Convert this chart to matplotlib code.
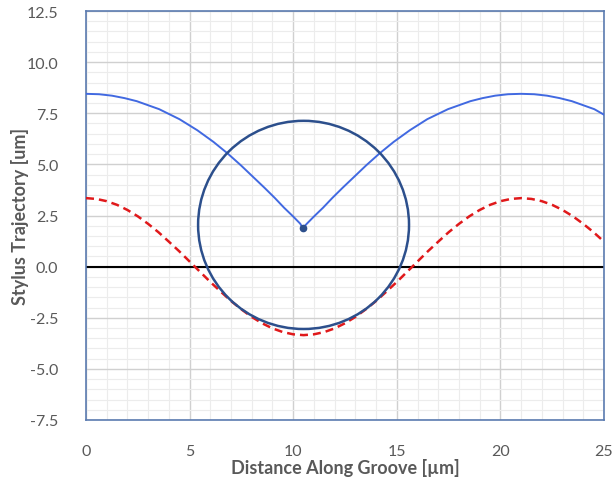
import matplotlib
matplotlib.use("Agg")
import matplotlib.pyplot as plt
from matplotlib.patches import Ellipse
from matplotlib.ticker import MultipleLocator, FormatStrFormatter

plt.rcParams["font.family"] = ["Lato", "DejaVu Sans"]

# groove profile (red dashed), read at 0.5 um steps
groove_x = [i * 0.5 for i in range(51)]
groove_y = [3.35, 3.31, 3.20, 3.02, 2.77, 2.46, 2.09, 1.68, 1.22, 0.75,
            0.25, -0.25, -0.75, -1.22, -1.68, -2.09, -2.46, -2.77, -3.02, -3.20,
            -3.31, -3.35, -3.31, -3.20, -3.02, -2.77, -2.46, -2.09, -1.68, -1.22,
            -0.75, -0.25, 0.25, 0.75, 1.22, 1.68, 2.09, 2.46, 2.77, 3.02,
            3.20, 3.31, 3.35, 3.31, 3.20, 3.02, 2.77, 2.46, 2.09, 1.68,
            1.22]

# stylus centre trajectory (blue)
stylus_x = [0.00, 0.63, 1.25, 1.86, 2.45, 3.53, 4.51, 5.37, 6.15, 6.84, 7.48,
            8.06, 8.61, 9.11, 9.56, 9.98, 10.34, 10.46, 10.66, 11.02, 11.44,
            11.89, 12.39, 12.94, 13.52, 14.16, 14.85, 15.63, 16.47, 17.47,
            18.55, 19.14, 19.75, 20.37, 21.00, 21.63, 22.25, 22.86, 23.45,
            24.53, 25.00]
stylus_y = [8.45, 8.43, 8.36, 8.24, 8.09, 7.70, 7.21, 6.67, 6.10, 5.53, 4.95,
            4.39, 3.86, 3.36, 2.88, 2.47, 2.10, 1.88, 2.10, 2.47, 2.88,
            3.36, 3.86, 4.39, 4.95, 5.53, 6.10, 6.67, 7.21, 7.70,
            8.09, 8.24, 8.36, 8.43, 8.45, 8.43, 8.36, 8.24, 8.09,
            7.70, 7.43]

# stylus tip circle and its centre at the cusp
tip_x, tip_y, tip_r = 10.5, 2.04, 5.09
cusp_x, cusp_y = 10.46, 1.88

fig = plt.figure(figsize=(6.14, 4.85), dpi=100)
ax = fig.add_axes([86 / 614, 1 - 421 / 485, 518 / 614, 409 / 485])

ax.set_xlim(0, 25)
ax.set_ylim(-7.5, 12.5)
ax.xaxis.set_major_locator(MultipleLocator(5))
ax.xaxis.set_minor_locator(MultipleLocator(1))
ax.yaxis.set_major_locator(MultipleLocator(2.5))
ax.yaxis.set_minor_locator(MultipleLocator(0.5))
ax.grid(which="major", color="#d0d0d0", linewidth=1.0)
ax.grid(which="minor", color="#ececec", linewidth=0.8)
ax.set_axisbelow(True)

ax.axhline(0, color="black", linewidth=1.5, zorder=2)
ax.plot(groove_x, groove_y, color="#e0191b", linewidth=1.8,
        linestyle=(0, (3.2, 2)), zorder=3)
ax.plot(stylus_x, stylus_y, color="#4169e1", linewidth=1.4, zorder=4)
ax.add_patch(Ellipse((tip_x, tip_y), 2 * tip_r, 2 * tip_r, fill=False,
                     edgecolor="#2c4f8c", linewidth=1.8, zorder=5))
ax.plot([cusp_x], [cusp_y], "o", color="#2c4f8c", markersize=4.5, zorder=6)

ax.yaxis.set_major_formatter(FormatStrFormatter("%.1f"))
ax.tick_params(which="both", length=0, labelsize=11.5, colors="#595959")
ax.tick_params(axis="x", pad=17)
ax.tick_params(axis="y", pad=20)
for s in ax.spines.values():
    s.set_color("#5b7bb0")
    s.set_linewidth(1.2)

ax.set_xlabel("Distance Along Groove [µm]", fontsize=13, fontweight="bold",
              color="#595959", labelpad=0)
ax.set_ylabel("Stylus Trajectory [um]", fontsize=13, fontweight="bold",
              color="#595959", labelpad=-2)

fig.savefig("out.png", dpi=100)
